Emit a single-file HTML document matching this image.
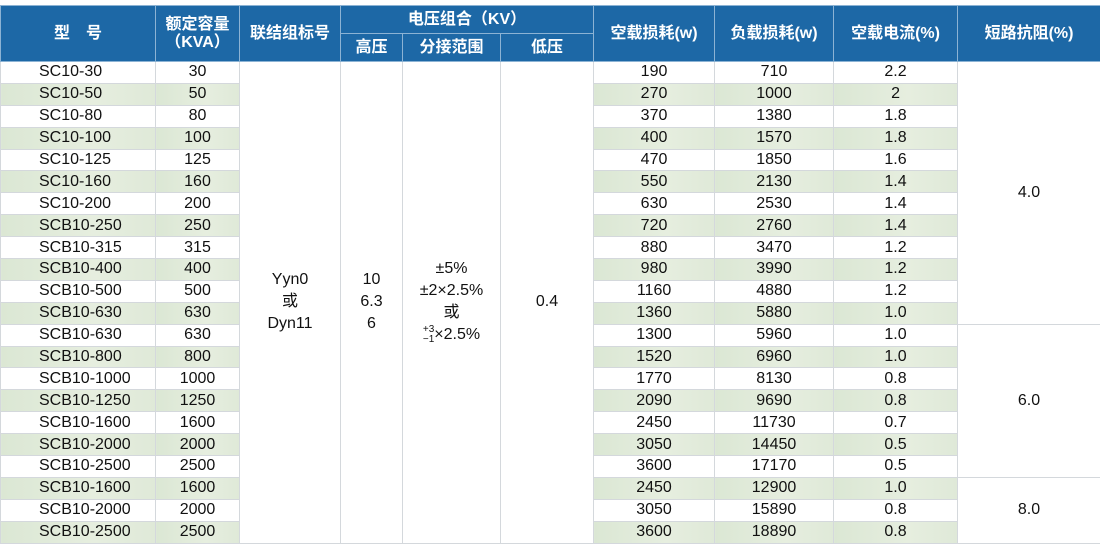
<!DOCTYPE html>
<html><head><meta charset="utf-8">
<style>
body{margin:0;width:1100px;height:548px;background:#fff;overflow:hidden;font-family:"Liberation Sans","Noto Sans CJK SC",sans-serif;}
table{position:absolute;left:0;top:5px;border-collapse:collapse;table-layout:fixed;width:1100px;}
td,th{padding:0;font-size:16px;color:#111;text-align:center;border:1px solid #d4d8dc;line-height:1;}
th{background:#1d68a6;color:#fff;font-weight:bold;font-size:16px;border:1px solid #8cb3d4;}
tr.h1 th{height:27px}
tr.h2 th{height:27px}
tbody tr{height:21.9px}
tbody td{height:20.9px}
td.m{text-align:left;padding-left:38px}
tr.g td.s{background:linear-gradient(90deg,#dbe7d4,#e6eedf 60%,#dfe9d8)}
td.w{background:#fff;vertical-align:middle}
td.l{line-height:22px}
</style></head><body>
<table>
<colgroup><col style="width:155px"><col style="width:84px"><col style="width:101px"><col style="width:62px"><col style="width:98px"><col style="width:93px"><col style="width:121px"><col style="width:119px"><col style="width:124px"><col style="width:143px"></colgroup>
<thead>
<tr class="h1"><th rowspan="2">型　号</th><th rowspan="2" style="line-height:1.1">额定容量<br>（KVA）</th><th rowspan="2">联结组标号</th><th colspan="3">电压组合（KV）</th><th rowspan="2">空载损耗(w)</th><th rowspan="2">负载损耗(w)</th><th rowspan="2">空载电流(%)</th><th rowspan="2">短路抗阻(%)</th></tr>
<tr class="h2"><th>高压</th><th>分接范围</th><th>低压</th></tr>
</thead>
<tbody>
<tr><td class="s m">SC10-30</td><td class="s">30</td><td class="w l" rowspan="22">Yyn0<br>或<br>Dyn11</td><td class="w l" rowspan="22">10<br>6.3<br>6</td><td class="w l" rowspan="22">±5%<br>±2×2.5%<br>或<br><span style="font-size:10px;display:inline-block;line-height:1;vertical-align:middle">+3<br>−1</span>×2.5%</td><td class="w" rowspan="22">0.4</td><td class="s">190</td><td class="s">710</td><td class="s">2.2</td><td class="w" rowspan="12">4.0</td></tr>
<tr class="g"><td class="s m">SC10-50</td><td class="s">50</td><td class="s">270</td><td class="s">1000</td><td class="s">2</td></tr>
<tr><td class="s m">SC10-80</td><td class="s">80</td><td class="s">370</td><td class="s">1380</td><td class="s">1.8</td></tr>
<tr class="g"><td class="s m">SC10-100</td><td class="s">100</td><td class="s">400</td><td class="s">1570</td><td class="s">1.8</td></tr>
<tr><td class="s m">SC10-125</td><td class="s">125</td><td class="s">470</td><td class="s">1850</td><td class="s">1.6</td></tr>
<tr class="g"><td class="s m">SC10-160</td><td class="s">160</td><td class="s">550</td><td class="s">2130</td><td class="s">1.4</td></tr>
<tr><td class="s m">SC10-200</td><td class="s">200</td><td class="s">630</td><td class="s">2530</td><td class="s">1.4</td></tr>
<tr class="g"><td class="s m">SCB10-250</td><td class="s">250</td><td class="s">720</td><td class="s">2760</td><td class="s">1.4</td></tr>
<tr><td class="s m">SCB10-315</td><td class="s">315</td><td class="s">880</td><td class="s">3470</td><td class="s">1.2</td></tr>
<tr class="g"><td class="s m">SCB10-400</td><td class="s">400</td><td class="s">980</td><td class="s">3990</td><td class="s">1.2</td></tr>
<tr><td class="s m">SCB10-500</td><td class="s">500</td><td class="s">1160</td><td class="s">4880</td><td class="s">1.2</td></tr>
<tr class="g"><td class="s m">SCB10-630</td><td class="s">630</td><td class="s">1360</td><td class="s">5880</td><td class="s">1.0</td></tr>
<tr><td class="s m">SCB10-630</td><td class="s">630</td><td class="s">1300</td><td class="s">5960</td><td class="s">1.0</td><td class="w" rowspan="7">6.0</td></tr>
<tr class="g"><td class="s m">SCB10-800</td><td class="s">800</td><td class="s">1520</td><td class="s">6960</td><td class="s">1.0</td></tr>
<tr><td class="s m">SCB10-1000</td><td class="s">1000</td><td class="s">1770</td><td class="s">8130</td><td class="s">0.8</td></tr>
<tr class="g"><td class="s m">SCB10-1250</td><td class="s">1250</td><td class="s">2090</td><td class="s">9690</td><td class="s">0.8</td></tr>
<tr><td class="s m">SCB10-1600</td><td class="s">1600</td><td class="s">2450</td><td class="s">11730</td><td class="s">0.7</td></tr>
<tr class="g"><td class="s m">SCB10-2000</td><td class="s">2000</td><td class="s">3050</td><td class="s">14450</td><td class="s">0.5</td></tr>
<tr><td class="s m">SCB10-2500</td><td class="s">2500</td><td class="s">3600</td><td class="s">17170</td><td class="s">0.5</td></tr>
<tr class="g"><td class="s m">SCB10-1600</td><td class="s">1600</td><td class="s">2450</td><td class="s">12900</td><td class="s">1.0</td><td class="w" rowspan="3">8.0</td></tr>
<tr><td class="s m">SCB10-2000</td><td class="s">2000</td><td class="s">3050</td><td class="s">15890</td><td class="s">0.8</td></tr>
<tr class="g"><td class="s m">SCB10-2500</td><td class="s">2500</td><td class="s">3600</td><td class="s">18890</td><td class="s">0.8</td></tr>
</tbody>
</table>
</body></html>
